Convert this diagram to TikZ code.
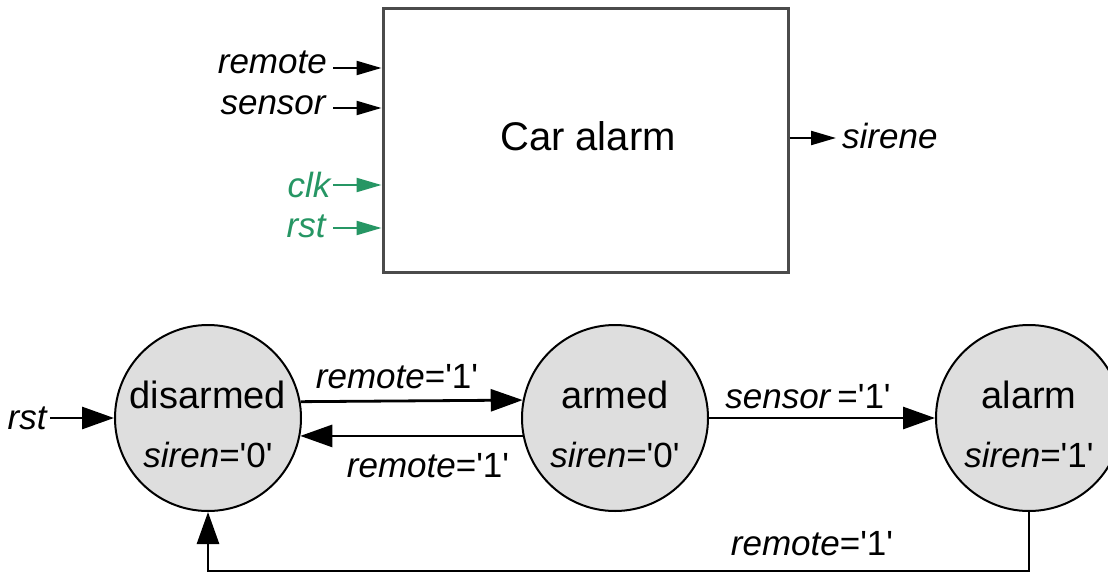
\documentclass[tikz,border=0pt]{standalone}
\usepackage{fontspec}
\setmainfont{Liberation Sans}
\usetikzlibrary{arrows.meta}

\definecolor{clkgreen}{RGB}{38,150,100}
\definecolor{statefill}{RGB}{222,222,222}
\definecolor{boxline}{RGB}{75,75,75}
\newcommand{\sq}{\textquotesingle}

\tikzset{
  blockbox/.style={draw=boxline, line width=3pt, minimum width=405pt,
    minimum height=263pt, inner sep=0pt},
  state/.style={circle, draw=black, line width=2pt, fill=statefill,
    minimum size=186pt, inner sep=0pt},
  title/.style={font=\fontsize{40}{46}\selectfont, inner sep=0pt},
  big/.style={font=\fontsize{38}{44}\selectfont, inner sep=0pt},
  lab/.style={font=\fontsize{35}{40}\selectfont, inner sep=0pt},
  trans/.style={line width=2.8pt, -{Triangle[length=32pt,width=22pt]}},
  sig/.style={line width=2.2pt, -{Triangle[length=25pt,width=14pt]}},
}

\begin{document}
\begin{tikzpicture}[x=1pt,y=-1pt]
\clip (0,0) rectangle (1108,586);
\fill[white] (0,0) rectangle (1108,586);

% ---- block symbol ----
\node[blockbox] (car) at (585.5,140.5) {};
\node[title] (cartext) at (588,136) {Car alarm};

\coordinate (pRemote) at (333,68);
\coordinate (pSensor) at (333,108);
\coordinate (pClk) at (333,185);
\coordinate (pRst) at (333,228);
\coordinate (pSir) at (836,138);

\draw[sig] (pRemote) -- (pRemote -| car.west);
\draw[sig] (pSensor) -- (pSensor -| car.west);
\draw[sig, draw=clkgreen, fill=clkgreen] (pClk) -- (pClk -| car.west);
\draw[sig, draw=clkgreen, fill=clkgreen] (pRst) -- (pRst -| car.west);
\draw[sig] (pSir -| car.east) -- (pSir);

\node[lab, anchor=base east] (tRemote) at ([xshift=-6pt,yshift=-6pt]pRemote) {\textit{remote}};
\node[lab, anchor=base east] (tSensor) at ([xshift=-6pt,yshift=-6pt]pSensor) {\textit{sensor}};
\node[lab, anchor=base east, text=clkgreen] (tClk) at ([xshift=-1pt,yshift=-12pt]pClk) {\textit{clk}};
\node[lab, anchor=base east, text=clkgreen] (tRst) at ([xshift=-6pt,yshift=-9pt]pRst) {\textit{rst}};
\node[lab, anchor=base west] (tSir) at ([xshift=6pt,yshift=-10pt]pSir) {\textit{sirene}};

% ---- state diagram ----
\node[state] (dis) at (208,418) {};
\node[state] (arm) at (615,418) {};
\node[state] (alm) at (1029,418) {};

\node[big] (disName) at ([yshift=23pt]dis.center) {disarmed};
\node[lab] (disOut) at ([yshift=-37pt]dis.center) {\textit{siren}=\sq0\sq};
\node[big] (armName) at ([yshift=23pt]arm.center) {armed};
\node[lab] (armOut) at ([yshift=-37pt]arm.center) {\textit{siren}=\sq0\sq};
\node[big] (almName) at ([yshift=23pt]alm.center) {alarm};
\node[lab] (almOut) at ([yshift=-37pt]alm.center) {\textit{siren}=\sq1\sq};

\coordinate (rstIn) at (50,418);
\node[lab, anchor=east] (rstText) at ([xshift=-2pt]rstIn) {\textit{rst}};
\draw[trans] (rstIn) -- (dis.west);

\draw[trans] (dis.10.5) -- (arm.169.5);
\draw[trans] (arm.191) -- (dis.-11);
\draw[trans] (arm.east) -- (alm.west);
\draw[trans] (alm.south) -- ++(0,59) -| (dis.south);

\node[lab, anchor=base] (l1) at (397,388) {\textit{remote}=\sq1\sq};
\node[lab, anchor=base] (l2) at (428,477) {\textit{remote}=\sq1\sq};
\node[lab, anchor=base] (l3) at (808,408) {\textit{sensor}\,=\sq1\sq};
\node[lab, anchor=base] (l4) at (812,555) {\textit{remote}=\sq1\sq};
\end{tikzpicture}
\end{document}
